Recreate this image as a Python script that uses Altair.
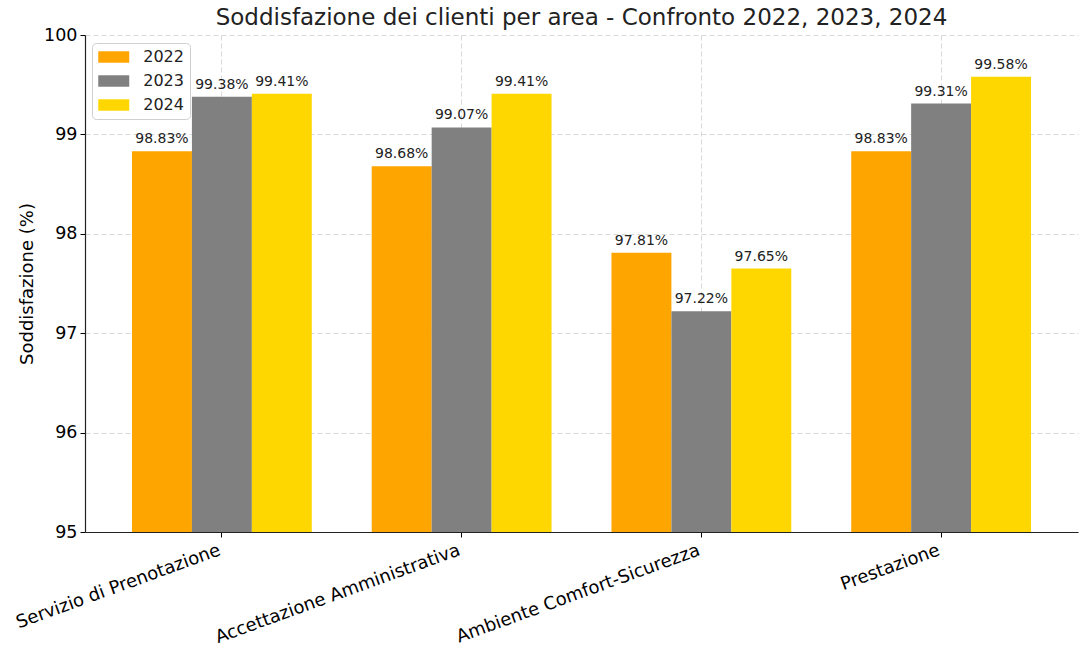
import altair as alt
import pandas as pd

areas = ["Servizio di Prenotazione", "Accettazione Amministrativa",
         "Ambiente Comfort-Sicurezza", "Prestazione"]
years = ["2022", "2023", "2024"]
v2022 = [98.83, 98.68, 97.81, 98.83]
v2023 = [99.38, 99.07, 97.22, 99.31]
v2024 = [99.41, 99.41, 97.65, 99.58]
colors = ["#FFA500", "#808080", "#FFD700"]

rows = []
for i, a in enumerate(areas):
    for y, vals in zip(years, [v2022, v2023, v2024]):
        rows.append({"area": a, "anno": y, "val": vals[i],
                     "lab": f"{vals[i]:.2f}%"})
df = pd.DataFrame(rows)

FONT = "DejaVu Sans"
x = alt.X("area:N", sort=areas, title=None,
          scale=alt.Scale(paddingInner=0.25, paddingOuter=0.196),
          axis=alt.Axis(labelAngle=-20, labelAlign="right", labelBaseline="top",
                        labelFontSize=18, labelFont=FONT, labelColor="#000",
                        labelPadding=4, labelOffset=-5, tickColor="#000", tickSize=5,
                        domainColor="#222", domainWidth=1.2,
                        grid=True, gridDash=[5, 3], gridColor="#cfcfcf",
                        gridWidth=0.8, labelLimit=400))
xo = alt.XOffset("anno:N", sort=years,
                 scale=alt.Scale(paddingInner=0, paddingOuter=0))
y = alt.Y("val:Q", title="Soddisfazione (%)",
          scale=alt.Scale(domain=[95, 100], zero=False, nice=False),
          axis=alt.Axis(values=[95, 96, 97, 98, 99, 100], format="d",
                        labelFontSize=17.5, labelFont=FONT, labelColor="#000",
                        tickColor="#000", tickSize=5, labelPadding=3,
                        domainColor="#222", domainWidth=1.2, titleFont=FONT,
                        titleFontSize=18, titleFontWeight="normal",
                        titleColor="#000", titlePadding=7, grid=True,
                        gridDash=[5, 3], gridColor="#cfcfcf", gridWidth=0.8))

bars = alt.Chart(df).mark_bar().encode(
    x=x, xOffset=xo, y=y, y2=alt.datum(95),
    color=alt.Color("anno:N", sort=years, title=None,
                    scale=alt.Scale(domain=years, range=colors),
                    legend=alt.Legend(orient="none", legendX=7, legendY=8,
                                      symbolType="M-2,-0.74H2V0.74H-2Z",
                                      symbolSize=240, symbolStrokeWidth=0,
                                      symbolOpacity=1, symbolOffset=7.75,
                                      labelFontSize=16, labelFont=FONT,
                                      labelColor="#222", labelOffset=21.5,
                                      rowPadding=8, padding=6,
                                      fillColor="white", strokeColor="#d0d0d0",
                                      cornerRadius=4)),
)
texts = alt.Chart(df).mark_text(baseline="bottom", dy=-5, fontSize=14,
                                font=FONT, color="#222").encode(
    x=alt.X("area:N", sort=areas), xOffset=xo, y="val:Q", text="lab:N")

chart = alt.layer(bars, texts).properties(
    width=993, height=497,
    title=alt.TitleParams("Soddisfazione dei clienti per area - Confronto 2022, 2023, 2024",
                          font=FONT, fontSize=23, fontWeight="normal",
                          color="#222", anchor="middle", offset=-4),
    autosize=alt.AutoSizeParams(type="none"),
    padding={"left": 85, "top": 35, "right": 2, "bottom": 116},
).configure_view(stroke=None)

chart.save("out.html", embed_options={"renderer": "svg", "actions": False})
